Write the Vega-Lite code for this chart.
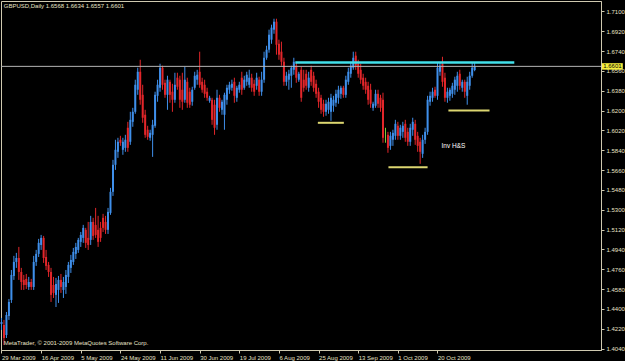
{
  "$schema": "https://vega.github.io/schema/vega-lite/v6.json",
  "width": 600,
  "height": 349,
  "autosize": {"type": "none"},
  "padding": {"left": 1, "top": 1, "right": 24, "bottom": 11},
  "background": "#000000",
  "config": {
    "font": "Liberation Sans",
    "view": {"stroke": "#cfc9b0", "strokeWidth": 1},
    "axis": {"labelOverlap": false, "labelFlush": false, "labelBound": false, "grid": false, "title": null}
  },
  "datasets": {
    "bars": [
      {"i":0,"o":1.4264,"h":1.4319,"l":1.4210,"c":1.4282},
      {"i":1,"o":1.4255,"h":1.4301,"l":1.4073,"c":1.4137},
      {"i":2,"o":1.4164,"h":1.4373,"l":1.4137,"c":1.4346},
      {"i":3,"o":1.4337,"h":1.4491,"l":1.4301,"c":1.4464},
      {"i":4,"o":1.4482,"h":1.4754,"l":1.4455,"c":1.4709},
      {"i":5,"o":1.4700,"h":1.4882,"l":1.4664,"c":1.4827},
      {"i":6,"o":1.4827,"h":1.4909,"l":1.4773,"c":1.4863},
      {"i":7,"o":1.4863,"h":1.4963,"l":1.4664,"c":1.4736},
      {"i":8,"o":1.4736,"h":1.4773,"l":1.4573,"c":1.4645},
      {"i":9,"o":1.4664,"h":1.4709,"l":1.4573,"c":1.4618},
      {"i":10,"o":1.4673,"h":1.4718,"l":1.4582,"c":1.4618},
      {"i":11,"o":1.4600,"h":1.4691,"l":1.4573,"c":1.4645},
      {"i":12,"o":1.4645,"h":1.4673,"l":1.4573,"c":1.4600},
      {"i":13,"o":1.4600,"h":1.4882,"l":1.4573,"c":1.4827},
      {"i":14,"o":1.4827,"h":1.4936,"l":1.4791,"c":1.4900},
      {"i":15,"o":1.4900,"h":1.5036,"l":1.4872,"c":1.5000},
      {"i":16,"o":1.4981,"h":1.5072,"l":1.4936,"c":1.5045},
      {"i":17,"o":1.5045,"h":1.5063,"l":1.4818,"c":1.4863},
      {"i":18,"o":1.4872,"h":1.4936,"l":1.4754,"c":1.4791},
      {"i":19,"o":1.4800,"h":1.4827,"l":1.4691,"c":1.4736},
      {"i":20,"o":1.4736,"h":1.4773,"l":1.4464,"c":1.4528},
      {"i":21,"o":1.4618,"h":1.4691,"l":1.4500,"c":1.4546},
      {"i":22,"o":1.4528,"h":1.4682,"l":1.4418,"c":1.4627},
      {"i":23,"o":1.4573,"h":1.4700,"l":1.4455,"c":1.4664},
      {"i":24,"o":1.4664,"h":1.4718,"l":1.4546,"c":1.4600},
      {"i":25,"o":1.4573,"h":1.4691,"l":1.4500,"c":1.4645},
      {"i":26,"o":1.4600,"h":1.4754,"l":1.4537,"c":1.4709},
      {"i":27,"o":1.4691,"h":1.4827,"l":1.4636,"c":1.4800},
      {"i":28,"o":1.4773,"h":1.4891,"l":1.4727,"c":1.4845},
      {"i":29,"o":1.4827,"h":1.4954,"l":1.4800,"c":1.4918},
      {"i":30,"o":1.4900,"h":1.5000,"l":1.4854,"c":1.4963},
      {"i":31,"o":1.4936,"h":1.5045,"l":1.4909,"c":1.5027},
      {"i":32,"o":1.5009,"h":1.5099,"l":1.4963,"c":1.5072},
      {"i":33,"o":1.5045,"h":1.5163,"l":1.5000,"c":1.5136},
      {"i":34,"o":1.5118,"h":1.5136,"l":1.4954,"c":1.5000},
      {"i":35,"o":1.5045,"h":1.5190,"l":1.4936,"c":1.4981},
      {"i":36,"o":1.5027,"h":1.5245,"l":1.4981,"c":1.5190},
      {"i":37,"o":1.5190,"h":1.5227,"l":1.5027,"c":1.5063},
      {"i":38,"o":1.5163,"h":1.5317,"l":1.5045,"c":1.5072},
      {"i":39,"o":1.5118,"h":1.5245,"l":1.4963,"c":1.5009},
      {"i":40,"o":1.5136,"h":1.5190,"l":1.5009,"c":1.5045},
      {"i":41,"o":1.5227,"h":1.5263,"l":1.5099,"c":1.5136},
      {"i":42,"o":1.5190,"h":1.5245,"l":1.5081,"c":1.5118},
      {"i":43,"o":1.5118,"h":1.5317,"l":1.5081,"c":1.5281},
      {"i":44,"o":1.5272,"h":1.5499,"l":1.5254,"c":1.5463},
      {"i":45,"o":1.5463,"h":1.5753,"l":1.5426,"c":1.5708},
      {"i":46,"o":1.5708,"h":1.5935,"l":1.5662,"c":1.5844},
      {"i":47,"o":1.5826,"h":1.5953,"l":1.5771,"c":1.5917},
      {"i":48,"o":1.5935,"h":1.5971,"l":1.5880,"c":1.5908},
      {"i":49,"o":1.5844,"h":1.5953,"l":1.5799,"c":1.5917},
      {"i":50,"o":1.5862,"h":1.5980,"l":1.5826,"c":1.5935},
      {"i":51,"o":1.6044,"h":1.6098,"l":1.5826,"c":1.5862},
      {"i":52,"o":1.5917,"h":1.6189,"l":1.5889,"c":1.6116},
      {"i":53,"o":1.6098,"h":1.6225,"l":1.6053,"c":1.6189},
      {"i":54,"o":1.6189,"h":1.6480,"l":1.6171,"c":1.6434},
      {"i":55,"o":1.6389,"h":1.6589,"l":1.6343,"c":1.6552},
      {"i":56,"o":1.6552,"h":1.6661,"l":1.6253,"c":1.6298},
      {"i":57,"o":1.6343,"h":1.6434,"l":1.6089,"c":1.6135},
      {"i":58,"o":1.6162,"h":1.6207,"l":1.5953,"c":1.5980},
      {"i":59,"o":1.6026,"h":1.6062,"l":1.5935,"c":1.5962},
      {"i":60,"o":1.5953,"h":1.6026,"l":1.5926,"c":1.5998},
      {"i":61,"o":1.5980,"h":1.6116,"l":1.5780,"c":1.6071},
      {"i":62,"o":1.6062,"h":1.6371,"l":1.6044,"c":1.6343},
      {"i":63,"o":1.6334,"h":1.6480,"l":1.6280,"c":1.6434},
      {"i":64,"o":1.6407,"h":1.6625,"l":1.6371,"c":1.6589},
      {"i":65,"o":1.6589,"h":1.6607,"l":1.6389,"c":1.6434},
      {"i":66,"o":1.6452,"h":1.6480,"l":1.6316,"c":1.6343},
      {"i":67,"o":1.6343,"h":1.6516,"l":1.6207,"c":1.6480},
      {"i":68,"o":1.6461,"h":1.6480,"l":1.6271,"c":1.6343},
      {"i":69,"o":1.6371,"h":1.6443,"l":1.6189,"c":1.6298},
      {"i":70,"o":1.6298,"h":1.6543,"l":1.6271,"c":1.6434},
      {"i":71,"o":1.6498,"h":1.6543,"l":1.6389,"c":1.6416},
      {"i":72,"o":1.6480,"h":1.6516,"l":1.6225,"c":1.6298},
      {"i":73,"o":1.6389,"h":1.6543,"l":1.6207,"c":1.6280},
      {"i":74,"o":1.6298,"h":1.6598,"l":1.6271,"c":1.6480},
      {"i":75,"o":1.6461,"h":1.6498,"l":1.6225,"c":1.6271},
      {"i":76,"o":1.6371,"h":1.6407,"l":1.6225,"c":1.6253},
      {"i":77,"o":1.6280,"h":1.6416,"l":1.6244,"c":1.6389},
      {"i":78,"o":1.6407,"h":1.6552,"l":1.6389,"c":1.6516},
      {"i":79,"o":1.6480,"h":1.6570,"l":1.6434,"c":1.6525},
      {"i":80,"o":1.6552,"h":1.6734,"l":1.6407,"c":1.6434},
      {"i":81,"o":1.6461,"h":1.6498,"l":1.6362,"c":1.6389},
      {"i":82,"o":1.6434,"h":1.6480,"l":1.6316,"c":1.6352},
      {"i":83,"o":1.6371,"h":1.6407,"l":1.6289,"c":1.6316},
      {"i":84,"o":1.6289,"h":1.6334,"l":1.6271,"c":1.6316},
      {"i":85,"o":1.6298,"h":1.6316,"l":1.6071,"c":1.6116},
      {"i":86,"o":1.6253,"h":1.6298,"l":1.5980,"c":1.6044},
      {"i":87,"o":1.6071,"h":1.6389,"l":1.6026,"c":1.6316},
      {"i":88,"o":1.6316,"h":1.6343,"l":1.6189,"c":1.6225},
      {"i":89,"o":1.6207,"h":1.6298,"l":1.6162,"c":1.6280},
      {"i":90,"o":1.6162,"h":1.6362,"l":1.6026,"c":1.6343},
      {"i":91,"o":1.6298,"h":1.6434,"l":1.6253,"c":1.6407},
      {"i":92,"o":1.6389,"h":1.6461,"l":1.6352,"c":1.6434},
      {"i":93,"o":1.6407,"h":1.6480,"l":1.6380,"c":1.6443},
      {"i":94,"o":1.6461,"h":1.6498,"l":1.6271,"c":1.6334},
      {"i":95,"o":1.6316,"h":1.6425,"l":1.6280,"c":1.6407},
      {"i":96,"o":1.6389,"h":1.6461,"l":1.6362,"c":1.6434},
      {"i":97,"o":1.6498,"h":1.6552,"l":1.6343,"c":1.6389},
      {"i":98,"o":1.6407,"h":1.6516,"l":1.6389,"c":1.6480},
      {"i":99,"o":1.6461,"h":1.6552,"l":1.6425,"c":1.6525},
      {"i":100,"o":1.6434,"h":1.6570,"l":1.6407,"c":1.6498},
      {"i":101,"o":1.6498,"h":1.6534,"l":1.6371,"c":1.6407},
      {"i":102,"o":1.6443,"h":1.6480,"l":1.6334,"c":1.6371},
      {"i":103,"o":1.6425,"h":1.6543,"l":1.6389,"c":1.6498},
      {"i":104,"o":1.6480,"h":1.6507,"l":1.6334,"c":1.6371},
      {"i":105,"o":1.6371,"h":1.6552,"l":1.6334,"c":1.6480},
      {"i":106,"o":1.6480,"h":1.6734,"l":1.6452,"c":1.6679},
      {"i":107,"o":1.6679,"h":1.6788,"l":1.6661,"c":1.6752},
      {"i":108,"o":1.6752,"h":1.6934,"l":1.6725,"c":1.6888},
      {"i":109,"o":1.6843,"h":1.6979,"l":1.6806,"c":1.6952},
      {"i":110,"o":1.6934,"h":1.7033,"l":1.6897,"c":1.7006},
      {"i":111,"o":1.7006,"h":1.7033,"l":1.6707,"c":1.6797},
      {"i":112,"o":1.6806,"h":1.6843,"l":1.6661,"c":1.6707},
      {"i":113,"o":1.6734,"h":1.6825,"l":1.6607,"c":1.6643},
      {"i":114,"o":1.6643,"h":1.6679,"l":1.6425,"c":1.6461},
      {"i":115,"o":1.6461,"h":1.6552,"l":1.6425,"c":1.6516},
      {"i":116,"o":1.6480,"h":1.6570,"l":1.6389,"c":1.6534},
      {"i":117,"o":1.6516,"h":1.6607,"l":1.6407,"c":1.6589},
      {"i":118,"o":1.6570,"h":1.6679,"l":1.6525,"c":1.6643},
      {"i":119,"o":1.6607,"h":1.6634,"l":1.6452,"c":1.6498},
      {"i":120,"o":1.6480,"h":1.6552,"l":1.6461,"c":1.6534},
      {"i":121,"o":1.6570,"h":1.6598,"l":1.6280,"c":1.6316},
      {"i":122,"o":1.6480,"h":1.6570,"l":1.6371,"c":1.6407},
      {"i":123,"o":1.6534,"h":1.6570,"l":1.6389,"c":1.6425},
      {"i":124,"o":1.6407,"h":1.6552,"l":1.6371,"c":1.6498},
      {"i":125,"o":1.6570,"h":1.6607,"l":1.6425,"c":1.6461},
      {"i":126,"o":1.6516,"h":1.6552,"l":1.6371,"c":1.6407},
      {"i":127,"o":1.6443,"h":1.6480,"l":1.6316,"c":1.6352},
      {"i":128,"o":1.6371,"h":1.6407,"l":1.6225,"c":1.6280},
      {"i":129,"o":1.6316,"h":1.6343,"l":1.6171,"c":1.6207},
      {"i":130,"o":1.6262,"h":1.6298,"l":1.6144,"c":1.6189},
      {"i":131,"o":1.6189,"h":1.6298,"l":1.6153,"c":1.6262},
      {"i":132,"o":1.6207,"h":1.6316,"l":1.6171,"c":1.6280},
      {"i":133,"o":1.6189,"h":1.6352,"l":1.6107,"c":1.6316},
      {"i":134,"o":1.6244,"h":1.6334,"l":1.6189,"c":1.6298},
      {"i":135,"o":1.6271,"h":1.6389,"l":1.6234,"c":1.6352},
      {"i":136,"o":1.6316,"h":1.6425,"l":1.6262,"c":1.6389},
      {"i":137,"o":1.6352,"h":1.6425,"l":1.6307,"c":1.6407},
      {"i":138,"o":1.6407,"h":1.6425,"l":1.6316,"c":1.6343},
      {"i":139,"o":1.6343,"h":1.6516,"l":1.6316,"c":1.6480},
      {"i":140,"o":1.6461,"h":1.6589,"l":1.6434,"c":1.6552},
      {"i":141,"o":1.6534,"h":1.6643,"l":1.6498,"c":1.6607},
      {"i":142,"o":1.6589,"h":1.6734,"l":1.6570,"c":1.6679},
      {"i":143,"o":1.6698,"h":1.6734,"l":1.6570,"c":1.6607},
      {"i":144,"o":1.6625,"h":1.6661,"l":1.6498,"c":1.6534},
      {"i":145,"o":1.6570,"h":1.6625,"l":1.6443,"c":1.6480},
      {"i":146,"o":1.6498,"h":1.6534,"l":1.6389,"c":1.6425},
      {"i":147,"o":1.6461,"h":1.6498,"l":1.6352,"c":1.6389},
      {"i":148,"o":1.6425,"h":1.6461,"l":1.6253,"c":1.6298},
      {"i":149,"o":1.6389,"h":1.6443,"l":1.6225,"c":1.6262},
      {"i":150,"o":1.6225,"h":1.6280,"l":1.6198,"c":1.6262},
      {"i":151,"o":1.6244,"h":1.6389,"l":1.6225,"c":1.6352},
      {"i":152,"o":1.6352,"h":1.6389,"l":1.6225,"c":1.6262},
      {"i":153,"o":1.6316,"h":1.6343,"l":1.6189,"c":1.6225},
      {"i":154,"o":1.6298,"h":1.6362,"l":1.5908,"c":1.5953},
      {"i":155,"o":1.5980,"h":1.6044,"l":1.5908,"c":1.5980},
      {"i":156,"o":1.5980,"h":1.6007,"l":1.5817,"c":1.5862},
      {"i":157,"o":1.5880,"h":1.6007,"l":1.5844,"c":1.5971},
      {"i":158,"o":1.5935,"h":1.6026,"l":1.5880,"c":1.5998},
      {"i":159,"o":1.5971,"h":1.6116,"l":1.5935,"c":1.6080},
      {"i":160,"o":1.6062,"h":1.6098,"l":1.5935,"c":1.5971},
      {"i":161,"o":1.5971,"h":1.6071,"l":1.5935,"c":1.6044},
      {"i":162,"o":1.6007,"h":1.6098,"l":1.5953,"c":1.6062},
      {"i":163,"o":1.6080,"h":1.6116,"l":1.5917,"c":1.5953},
      {"i":164,"o":1.6007,"h":1.6044,"l":1.5880,"c":1.5917},
      {"i":165,"o":1.5917,"h":1.6080,"l":1.5880,"c":1.6044},
      {"i":166,"o":1.6026,"h":1.6135,"l":1.5971,"c":1.6098},
      {"i":167,"o":1.6080,"h":1.6116,"l":1.5889,"c":1.5935},
      {"i":168,"o":1.5971,"h":1.6007,"l":1.5826,"c":1.5880},
      {"i":169,"o":1.5917,"h":1.5953,"l":1.5717,"c":1.5826},
      {"i":170,"o":1.5808,"h":1.5980,"l":1.5771,"c":1.5935},
      {"i":171,"o":1.5935,"h":1.6044,"l":1.5898,"c":1.6007},
      {"i":172,"o":1.6007,"h":1.6334,"l":1.5980,"c":1.6298},
      {"i":173,"o":1.6280,"h":1.6371,"l":1.6244,"c":1.6334},
      {"i":174,"o":1.6316,"h":1.6407,"l":1.6280,"c":1.6371},
      {"i":175,"o":1.6389,"h":1.6416,"l":1.6316,"c":1.6334},
      {"i":176,"o":1.6334,"h":1.6634,"l":1.6298,"c":1.6589},
      {"i":177,"o":1.6552,"h":1.6634,"l":1.6516,"c":1.6607},
      {"i":178,"o":1.6625,"h":1.6688,"l":1.6416,"c":1.6461},
      {"i":179,"o":1.6498,"h":1.6543,"l":1.6280,"c":1.6316},
      {"i":180,"o":1.6316,"h":1.6407,"l":1.6271,"c":1.6371},
      {"i":181,"o":1.6334,"h":1.6407,"l":1.6289,"c":1.6389},
      {"i":182,"o":1.6352,"h":1.6452,"l":1.6316,"c":1.6425},
      {"i":183,"o":1.6389,"h":1.6507,"l":1.6343,"c":1.6480},
      {"i":184,"o":1.6425,"h":1.6552,"l":1.6371,"c":1.6516},
      {"i":185,"o":1.6534,"h":1.6570,"l":1.6389,"c":1.6425},
      {"i":186,"o":1.6407,"h":1.6480,"l":1.6371,"c":1.6461},
      {"i":187,"o":1.6461,"h":1.6480,"l":1.6316,"c":1.6371},
      {"i":188,"o":1.6334,"h":1.6507,"l":1.6253,"c":1.6461},
      {"i":189,"o":1.6425,"h":1.6552,"l":1.6389,"c":1.6516},
      {"i":190,"o":1.6516,"h":1.6634,"l":1.6498,"c":1.6589},
      {"i":191,"o":1.6568,"h":1.6634,"l":1.6557,"c":1.6601}
    ]
  },
  "layer": [
    {
      "data": {"name": "bars"},
      "mark": {"type": "rule", "strokeWidth": 1},
      "encoding": {
        "x": {
          "field": "i", "type": "quantitative", "title": null,
          "scale": {"domain": [-0.2, 242], "nice": false, "zero": false},
          "axis": {
            "values": [0, 16, 32, 48, 64, 80, 96, 112, 128, 144, 160, 176],
            "tickCount": 30,
            "labelExpr": "['29 Mar 2009','16 Apr 2009','5 May 2009','24 May 2009','11 Jun 2009','30 Jun 2009','19 Jul 2009','6 Aug 2009','25 Aug 2009','13 Sep 2009','1 Oct 2009','20 Oct 2009'][round(datum.value/16)]",
            "labelAlign": "left", "labelBaseline": "top", "labelPadding": 1,
            "labelFontSize": 6, "labelColor": "#e8e2c8", "labelFont": "Liberation Sans",
            "tickSize": 3, "tickColor": "#cfc9b0", "domainColor": "#cfc9b0"
          }
        },
        "y": {
          "field": "l", "type": "quantitative", "title": null,
          "scale": {"domain": [1.4028, 1.7194], "nice": false, "zero": false},
          "axis": {
            "orient": "right",
            "values": [1.71, 1.692, 1.674, 1.656, 1.638, 1.62, 1.602, 1.584, 1.566, 1.548, 1.53, 1.512, 1.494, 1.476, 1.458, 1.44, 1.422, 1.404],
            "tickCount": 40,
            "labelExpr": "format(datum.value, '.4f')",
            "labelFontSize": 6, "labelColor": "#e8e2c8", "labelFont": "Liberation Sans",
            "labelPadding": 2, "labelBaseline": "middle",
            "tickSize": 3, "tickColor": "#cfc9b0", "domainColor": "#cfc9b0"
          }
        },
        "y2": {"field": "h"},
        "color": {
          "condition": [
            {"test": "datum.c > datum.o", "value": "#3f8fea"},
            {"test": "datum.c < datum.o", "value": "#e3262a"}
          ],
          "value": "#7ed03c"
        }
      }
    },
    {
      "data": {"name": "bars"},
      "mark": {"type": "rule", "strokeWidth": 2},
      "encoding": {
        "x": {"field": "i", "type": "quantitative", "title": null},
        "y": {"field": "o", "type": "quantitative", "title": null},
        "y2": {"field": "c"},
        "color": {
          "condition": [
            {"test": "datum.c > datum.o", "value": "#3f8fea"},
            {"test": "datum.c < datum.o", "value": "#e3262a"}
          ],
          "value": "#7ed03c"
        }
      }
    },
    {
      "data": {"values": [{"p": 1.6601}]},
      "mark": {"type": "rule", "color": "#b4b4b4", "strokeWidth": 1},
      "encoding": {"y": {"field": "p", "type": "quantitative", "title": null}}
    },
    {
      "data": {"values": [{"x1": 118.6, "x2": 207.0, "p": 1.6637}]},
      "mark": {"type": "rule", "color": "#42e0ea", "strokeWidth": 2.5},
      "encoding": {
        "x": {"field": "x1", "type": "quantitative", "title": null},
        "x2": {"field": "x2"},
        "y": {"field": "p", "type": "quantitative", "title": null}
      }
    },
    {
      "data": {"values": [
        {"x1": 127.7, "x2": 138.2, "p": 1.6089},
        {"x1": 156.2, "x2": 172.0, "p": 1.5685},
        {"x1": 180.4, "x2": 197.0, "p": 1.6201}
      ]},
      "mark": {"type": "rule", "color": "#dcd670", "strokeWidth": 2},
      "encoding": {
        "x": {"field": "x1", "type": "quantitative", "title": null},
        "x2": {"field": "x2"},
        "y": {"field": "p", "type": "quantitative", "title": null}
      }
    },
    {
      "data": {"values": [{"x": 177.6, "p": 1.588, "t": "Inv H&S"}]},
      "mark": {"type": "text", "align": "left", "baseline": "middle", "fontSize": 6.5, "color": "#ffffff", "font": "Liberation Sans"},
      "encoding": {
        "x": {"field": "x", "type": "quantitative", "title": null},
        "y": {"field": "p", "type": "quantitative", "title": null},
        "text": {"field": "t"}
      }
    },
    {
      "data": {"values": [{"x": 0.9, "p": 1.7152, "t": "GBPUSD,Daily  1.6568 1.6634 1.6557 1.6601"}]},
      "mark": {"type": "text", "align": "left", "baseline": "middle", "fontSize": 6, "color": "#e8e2c8", "font": "Liberation Sans"},
      "encoding": {
        "x": {"field": "x", "type": "quantitative", "title": null},
        "y": {"field": "p", "type": "quantitative", "title": null},
        "text": {"field": "t"}
      }
    },
    {
      "data": {"values": [{"x": 0.9, "p": 1.4092, "t": "MetaTrader, © 2001-2009 MetaQuotes Software Corp."}]},
      "mark": {"type": "text", "align": "left", "baseline": "middle", "fontSize": 6, "color": "#e8e2c8", "font": "Liberation Sans"},
      "encoding": {
        "x": {"field": "x", "type": "quantitative", "title": null},
        "y": {"field": "p", "type": "quantitative", "title": null},
        "text": {"field": "t"}
      }
    },
    {
      "data": {"values": [{"x1": 242.4, "x2": 250.8, "p1": 1.6630, "p2": 1.6571}]},
      "mark": {"type": "rect", "color": "#f4ec3c"},
      "encoding": {
        "x": {"field": "x1", "type": "quantitative", "title": null},
        "x2": {"field": "x2"},
        "y": {"field": "p1", "type": "quantitative", "title": null},
        "y2": {"field": "p2"}
      }
    },
    {
      "data": {"values": [{"x": 246.6, "p": 1.6601, "t": "1.6601"}]},
      "mark": {"type": "text", "align": "center", "baseline": "middle", "fontSize": 6, "color": "#000000", "font": "Liberation Sans"},
      "encoding": {
        "x": {"field": "x", "type": "quantitative", "title": null},
        "y": {"field": "p", "type": "quantitative", "title": null},
        "text": {"field": "t"}
      }
    }
  ]
}
